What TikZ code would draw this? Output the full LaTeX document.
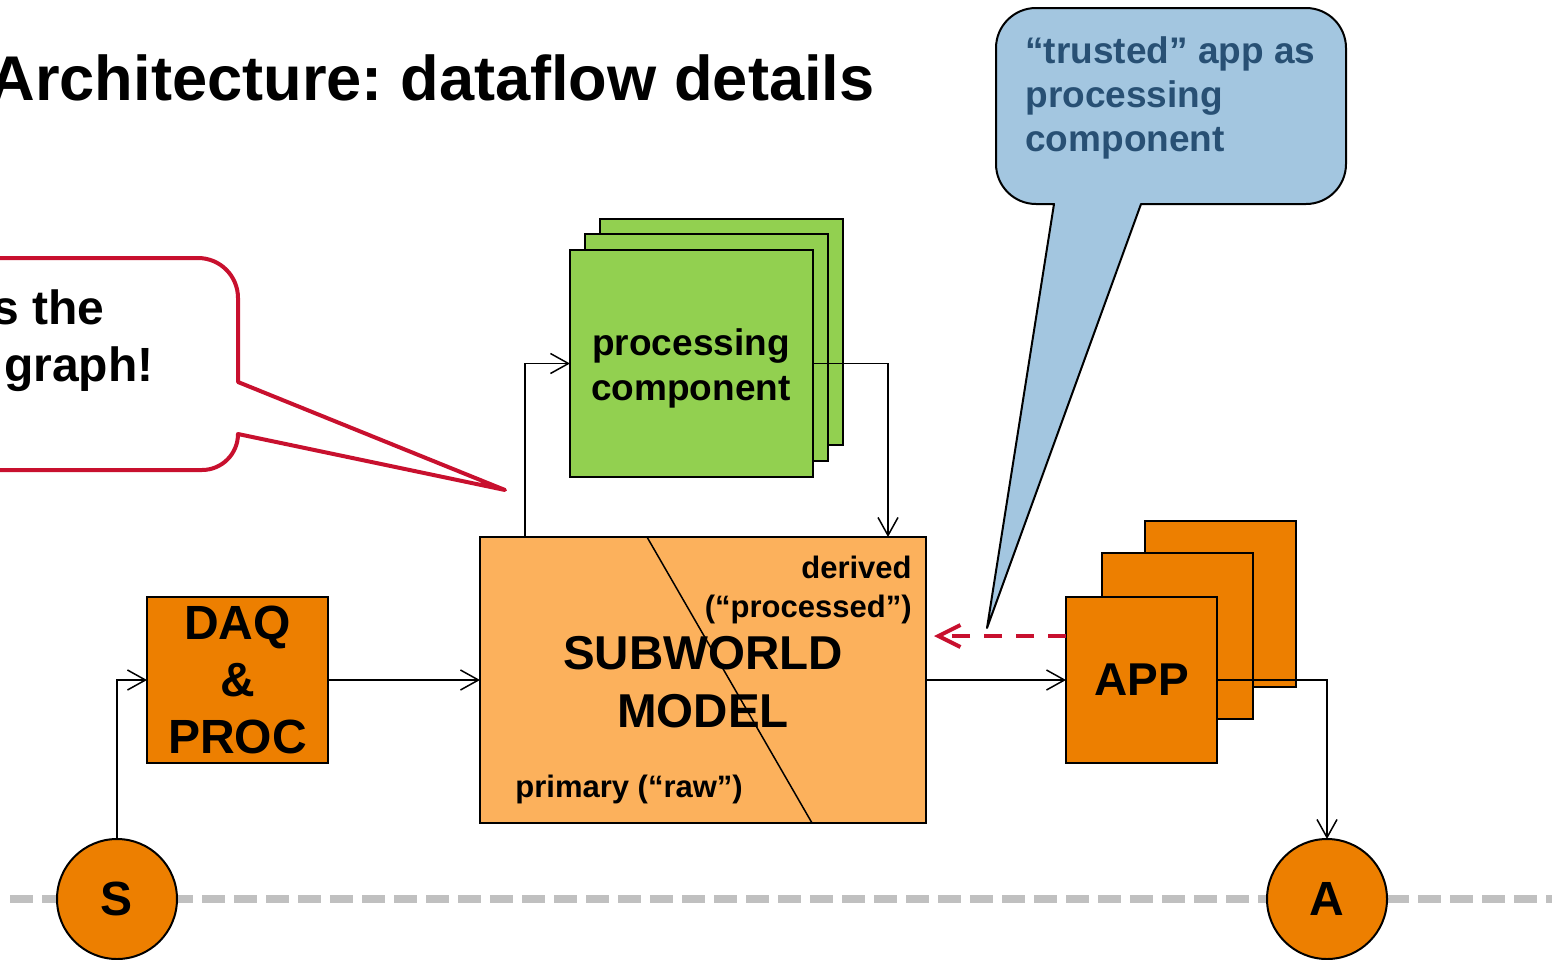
\documentclass[tikz,border=0pt]{standalone}
\usepackage{fontspec}
\setmainfont{Liberation Sans}
\usetikzlibrary{arrows.meta,calc}
\definecolor{orangeD}{RGB}{237,127,0}
\definecolor{orangeL}{RGB}{252,177,92}
\definecolor{greenP}{RGB}{146,208,80}
\definecolor{blueF}{RGB}{163,198,224}
\definecolor{blueT}{RGB}{40,80,116}
\definecolor{redC}{RGB}{200,16,46}
\definecolor{grayL}{RGB}{192,192,192}
\frenchspacing
\begin{document}
\begin{tikzpicture}[x=0.5pt,y=-0.5pt,
  box/.style={draw=black,line width=1pt,inner sep=0pt,outer sep=0pt},
  greenbox/.style={box,fill=greenP,minimum width=121.5pt,minimum height=113.25pt},
  appbox/.style={box,fill=orangeD,minimum width=75.5pt,minimum height=83pt},
  conn/.style={draw=black,line width=0.75pt,-{Straight Barb[length=9pt,width=10pt]}},
  reddash/.style={draw=redC,line width=2pt,dash pattern=on 9pt off 7pt,-{Straight Barb[length=11pt,width=11pt,line width=2pt]}},
  bigtxt/.style={font=\fontsize{24pt}{28.5pt}\selectfont\bfseries,align=center,inner sep=0pt},
  midtxt/.style={font=\fontsize{18.5pt}{22.5pt}\selectfont\bfseries,inner sep=0pt},
  smalltxt/.style={font=\fontsize{15.5pt}{19.5pt}\selectfont\bfseries,inner sep=0pt}]
\useasboundingbox (0,0) rectangle (1562,959);
\clip (0,0) rectangle (1562,959);

% title
\node[anchor=base east,inner sep=0pt,font=\fontsize{31.6pt}{38pt}\selectfont\bfseries] (title) at (875,100) {Architecture: dataflow details};

% red callout
\draw[redC,line width=2pt,fill=white,line join=round]
  (238,382) -- (238,298) arc[start angle=0,end angle=-90,radius=40]
  -- (-100,258) -- (-100,470) -- (202,470) arc[start angle=90,end angle=0,radius=36]
  -- (505,490) -- cycle;
\node[anchor=base east,bigtxt] (rt1) at (105,324) {s the};
\node[anchor=base east,bigtxt] (rt2) at (154,381) {graph!};

% blue callout
\draw[black,line width=1pt,fill=blueF,line join=round]
  (1054,204) -- (987,628) -- (1141,204) -- (1306,204)
  arc[start angle=90,end angle=0,radius=40] -- (1346,48)
  arc[start angle=0,end angle=-90,radius=40] -- (1036,8)
  arc[start angle=-90,end angle=-180,radius=40] -- (996,164)
  arc[start angle=180,end angle=90,radius=40] -- cycle;
\node[anchor=base west,midtxt,text=blueT] (bt1) at (1025,63) {“trusted” app as};
\node[anchor=base west,midtxt,text=blueT] (bt2) at (1025,107) {processing};
\node[anchor=base west,midtxt,text=blueT] (bt3) at (1025,151) {component};

% gray baseline
\draw[grayL,line width=4pt,dash pattern=on 11.5pt off 4.5pt] (10,899) -- (1552,899);

% processing components
\node[greenbox] (PC3) at (721.5,332) {};
\node[greenbox] (PC2) at (706.5,347.5) {};
\node[greenbox] (PC1) at (691.5,363.5) {};
\node[midtxt,align=center] (pct) at (691,368) {processing\\component};

% subworld model
\node[box,fill=orangeL,minimum width=223pt,minimum height=143pt] (SW) at (703,680) {};
\draw[line width=0.75pt] ($(SW.north west)+(167,0)$) -- ($(SW.south west)+(332,0)$);
\node[bigtxt,font=\fontsize{23.75pt}{29pt}\selectfont\bfseries] (swt) at (703,682) {SUBWORLD\\MODEL};
\node[anchor=base east,smalltxt] (der) at (912,578) {derived};
\node[anchor=base east,smalltxt] (prc) at (912,617) {(“processed”)};
\node[anchor=base west,smalltxt] (prim) at (515,797) {primary (“raw”)};

% DAQ
\node[box,fill=orangeD,minimum width=90.5pt,minimum height=83pt,bigtxt] (DAQ) at (237.5,680) {DAQ\\\&\\PROC};

% apps
\node[appbox] (APP3) at (1220.5,604) {};
\node[appbox] (APP2) at (1177.5,636) {};
\node[appbox,font=\fontsize{23pt}{27pt}\selectfont\bfseries] (APP1) at (1141.5,680) {APP};

% sensor / actuator
\node[circle,draw=black,line width=1pt,fill=orangeD,minimum size=60pt,inner sep=0pt,outer sep=0pt,font=\fontsize{24pt}{28pt}\selectfont\bfseries] (S) at (117,899) {S};
\node[circle,draw=black,line width=1pt,fill=orangeD,minimum size=60pt,inner sep=0pt,outer sep=0pt,font=\fontsize{24pt}{28pt}\selectfont\bfseries] (A) at (1327,899) {A};

% connectors
\draw[conn] (S.north) |- (DAQ.west);
\draw[conn] (DAQ.east) -- (SW.west);
\draw[conn] ($(SW.north west)+(45,0)$) |- (PC1.west);
\draw[conn] (PC1.east) -| ($(SW.north east)+(-38,0)$);
\draw[conn] (SW.east) -- (APP1.west);
\draw[conn] (APP1.east) -| (A.north);
\draw[reddash] ($(APP1.west)+(0,-44)$) -- ($(SW.east)+(8,-44)$);
\end{tikzpicture}
\end{document}
